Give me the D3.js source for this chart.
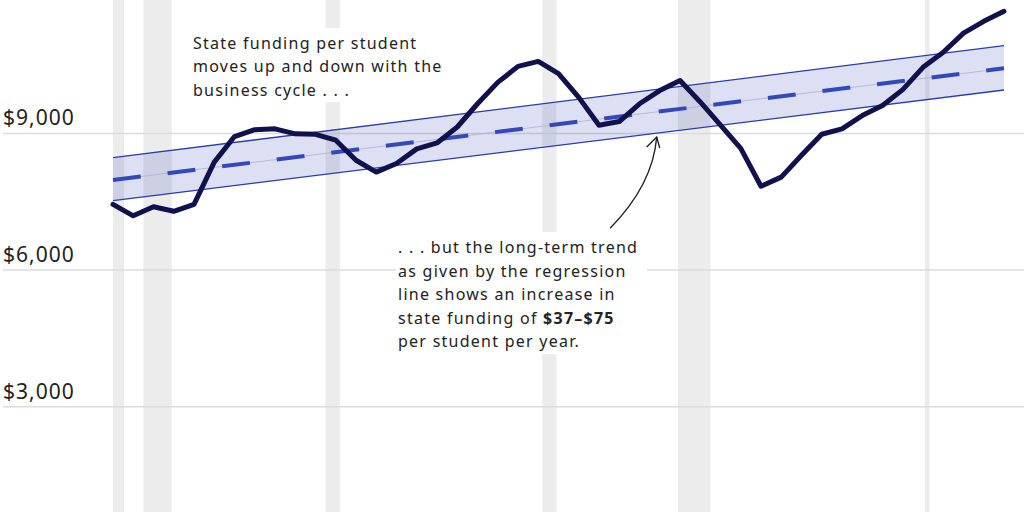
<!DOCTYPE html>
<html>
<head>
<meta charset="utf-8">
<script src="https://cdn.jsdelivr.net/npm/d3@7"></script>
<style>
  body { margin: 0; background: #fff; }
  svg { display: block; font-family: "Noto Sans", "Open Sans", sans-serif; }
  .note { font-size: 16px; fill: #222; letter-spacing: 1.25px; }
  .ylab { font-size: 21px; fill: #222; letter-spacing: 1px; }
</style>
</head>
<body>
<svg id="chart"></svg>
<script>
var screenWidth = 1024;
var screenHeight = 512;

// data
var years = [1980, 1981, 1982, 1983, 1984, 1985, 1986, 1987, 1988, 1989,
             1990, 1991, 1992, 1993, 1994, 1995, 1996, 1997, 1998, 1999,
             2000, 2001, 2002, 2003, 2004, 2005, 2006, 2007, 2008, 2009,
             2010, 2011, 2012, 2013, 2014, 2015, 2016, 2017, 2018, 2019,
             2020, 2021, 2022, 2023, 2024];
var funding = [7440, 7190, 7390, 7290, 7440, 8370, 8930, 9080, 9100, 8990,
               8980, 8850, 8410, 8150, 8340, 8660, 8790, 9140, 9650, 10120,
               10470, 10580, 10310, 9790, 9180, 9260, 9650, 9940, 10160, 9690,
               9180, 8670, 7840, 8040, 8520, 8980, 9100, 9390, 9610, 9960,
               10450, 10780, 11200, 11460, 11680];
// recessions as [start, end] in decimal years
var recessions = [[1980.0, 1980.55], [1981.5, 1982.9], [1990.5, 1991.2],
                  [2001.2, 2001.9], [2007.9, 2009.5], [2020.1, 2020.33]];
// regression line (first / last year) and its band
var trendYears = [1980, 2024];
var trendMid = [7976, 10428];
var trendLow = [7522, 9952];
var trendHigh = [8466, 10924];
var yTicks = [3000, 6000, 9000];

var x = d3.scaleLinear().domain([1980, 2024]).range([113, 1004]);
var y = d3.scaleLinear().domain([0, 12000]).range([543.4, -3.3]);

var svg = d3.select('#chart')
	.attr('width', screenWidth)
	.attr('height', screenHeight);

// recession bands
svg.append('g').selectAll('rect')
	.data(recessions)
	.enter()
	.append('rect')
	.attr('x', function(d) { return x(d[0]); })
	.attr('width', function(d) { return x(d[1]) - x(d[0]); })
	.attr('y', 0)
	.attr('height', screenHeight)
	.attr('fill', '#ececec');

// grid + labels
var grid = svg.append('g');
grid.selectAll('line')
	.data(yTicks)
	.enter()
	.append('line')
	.attr('x1', 3)
	.attr('x2', screenWidth)
	.attr('y1', function(d) { return y(d); })
	.attr('y2', function(d) { return y(d); })
	.attr('stroke', '#dcdcdc')
	.attr('stroke-width', 1.5);
grid.selectAll('text')
	.data(yTicks)
	.enter()
	.append('text')
	.classed('ylab', true)
	.attr('x', 3)
	.attr('y', function(d) { return y(d) - 8; })
	.text(function(d) { return d3.format('$,')(d); });

// white boxes behind the notes
svg.append('rect').attr('x', 188).attr('y', 28).attr('width', 260).attr('height', 74).attr('fill', '#fff');
svg.append('rect').attr('x', 396).attr('y', 232).attr('width', 251).attr('height', 122).attr('fill', '#fff');

var note1 = svg.append('text').classed('note', true);
['State funding per student', 'moves up and down with the', 'business cycle . . .']
	.forEach(function(s, i) {
		note1.append('tspan').attr('x', 193).attr('y', 49 + i*23.3).text(s);
	});

var note2 = svg.append('text').classed('note', true);
var lines2 = [['. . . but the long-term trend'], ['as given by the regression'],
              ['line shows an increase in'], ['state funding of ', '$37\u2013$75'],
              ['per student per year.']];
lines2.forEach(function(parts, i) {
	parts.forEach(function(s, j) {
		var t = note2.append('tspan').text(s);
		if (j == 0) t.attr('x', 398).attr('y', 253 + i*23.5);
		if (j == 1) t.attr('font-weight', 'bold');
	});
});

// regression band
var trend = trendYears.map(function(d, i) {
	return { year: d, mid: trendMid[i], low: trendLow[i], high: trendHigh[i] };
});
svg.append('path')
	.datum(trend)
	.attr('d', d3.area()
		.x(function(d) { return x(d.year); })
		.y0(function(d) { return y(d.low); })
		.y1(function(d) { return y(d.high); }))
	.attr('fill', '#3347b8')
	.attr('fill-opacity', 0.167);
['low', 'high'].forEach(function(k) {
	svg.append('path')
		.datum(trend)
		.attr('d', d3.line()
			.x(function(d) { return x(d.year); })
			.y(function(d) { return y(d[k]); }))
		.attr('fill', 'none')
		.attr('stroke', '#2b3cac')
		.attr('stroke-width', 1.3);
});
var midLine = d3.line()
	.x(function(d) { return x(d.year); })
	.y(function(d) { return y(d.mid); });
svg.append('path')
	.datum(trend)
	.attr('d', midLine)
	.attr('fill', 'none')
	.attr('stroke', '#aeb1c6')
	.attr('stroke-width', 0.8);
svg.append('path')
	.datum(trend)
	.attr('d', midLine)
	.attr('fill', 'none')
	.attr('stroke', '#3348bb')
	.attr('stroke-width', 4)
	.attr('stroke-dasharray', '28,27');

// funding line
svg.append('path')
	.datum(years)
	.attr('d', d3.line()
		.x(function(d) { return x(d); })
		.y(function(d, i) { return y(funding[i]); }))
	.attr('fill', 'none')
	.attr('stroke', '#11114e')
	.attr('stroke-width', 5)
	.attr('stroke-linejoin', 'round')
	.attr('stroke-linecap', 'round');

// arrow pointing at the trend
var tip = [x(2006.85), y(8920)];
var tail = [x(2004.55), y(6920)];
svg.append('path')
	.attr('d', 'M' + tail[0] + ',' + tail[1] + ' Q' + (tip[0] - 4) + ',' + (tip[1] + 48) + ' ' + tip[0] + ',' + tip[1])
	.attr('fill', 'none')
	.attr('stroke', '#222')
	.attr('stroke-width', 1.4);
svg.append('path')
	.attr('d', 'M' + (tip[0] - 10) + ',' + (tip[1] + 10) + ' L' + tip[0] + ',' + tip[1] + ' L' + (tip[0] + 3) + ',' + (tip[1] + 11))
	.attr('fill', 'none')
	.attr('stroke', '#222')
	.attr('stroke-width', 1.4);
</script>
</body>
</html>
